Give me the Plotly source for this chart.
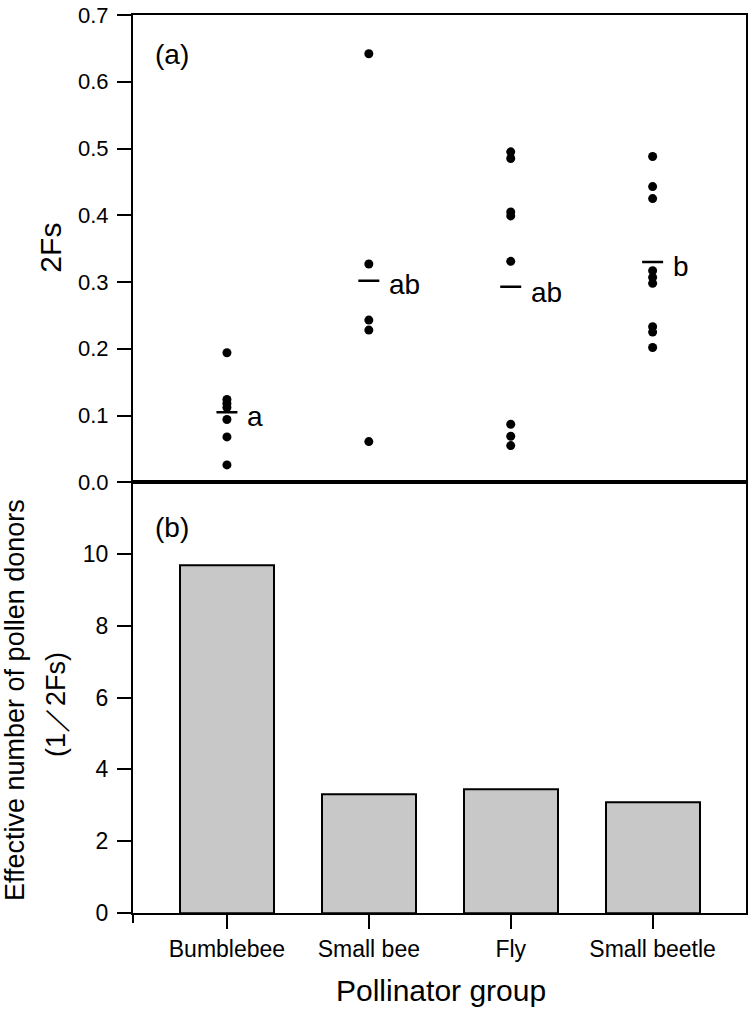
import plotly.graph_objects as go

# ---- data ----
categories = ["Bumblebee", "Small bee", "Fly", "Small beetle"]
bumblebee_2fs = [0.194, 0.124, 0.118, 0.112, 0.094, 0.068, 0.026]
small_bee_2fs = [0.642, 0.327, 0.243, 0.228, 0.061]
fly_2fs = [0.495, 0.485, 0.405, 0.399, 0.331, 0.087, 0.069, 0.055]
small_beetle_2fs = [0.488, 0.443, 0.425, 0.317, 0.307, 0.298, 0.233, 0.225, 0.202]
mean_2fs = [0.105, 0.302, 0.293, 0.330]
letters = ["a", "ab", "ab", "b"]
letter_y = [0.099, 0.296, 0.285, 0.324]
donors = [9.70, 3.31, 3.44, 3.08]
ytick_top = [0.0, 0.1, 0.2, 0.3, 0.4, 0.5, 0.6, 0.7]
ytick_bottom = [0, 2, 4, 6, 8, 10]

groups = [bumblebee_2fs, small_bee_2fs, fly_2fs, small_beetle_2fs]
idx = list(range(len(categories)))

FONT = "Liberation Sans, Arial, Helvetica, sans-serif"
fig = go.Figure()

# top panel: individual points
px_, py_ = [], []
for i, g in zip(idx, groups):
    px_ += [i] * len(g)
    py_ += g
fig.add_trace(go.Scatter(x=px_, y=py_, mode="markers", xaxis="x2", yaxis="y2",
                         marker=dict(color="black", size=9), showlegend=False))
# mean lines
fig.add_trace(go.Scatter(x=idx, y=mean_2fs, mode="markers", xaxis="x2", yaxis="y2",
                         marker=dict(symbol="line-ew", size=15, color="black",
                                     line=dict(color="black", width=2.5)),
                         showlegend=False))
# letters
for i, t, yv in zip(idx, letters, letter_y):
    fig.add_annotation(x=i + 0.13, y=yv, xref="x2", yref="y2", text=t, showarrow=False,
                       xanchor="left", yanchor="middle", font=dict(size=28, color="black"))

# bottom panel: bars
fig.add_trace(go.Bar(x=idx, y=donors, width=0.662, xaxis="x", yaxis="y",
                     marker=dict(color="#c8c8c8", line=dict(color="black", width=2)),
                     showlegend=False))

T, B = 15, 104
PH = 1017 - T - B
xr = [-0.662, 3.658]
split = (1017 - B - 482.3) / PH
axis_common = dict(showline=True, linecolor="black", linewidth=2, mirror=True,
                   showgrid=False, zeroline=False, automargin=False)
fig.update_layout(
    width=750, height=1017,
    margin=dict(l=133, r=4, t=T, b=B, autoexpand=False),
    paper_bgcolor="white", plot_bgcolor="white",
    font=dict(family=FONT, color="black", size=22),
    bargap=0,
    xaxis=dict(domain=[0, 1], anchor="y", range=xr, tickvals=idx, ticktext=categories,
               ticks="outside", ticklen=14, tickwidth=2, tickcolor="black",
               tickfont=dict(size=23), **axis_common),
    yaxis=dict(domain=[0, split], anchor="x", range=[0, 12], tickvals=ytick_bottom,
               ticks="outside", ticklen=14, tickwidth=2, tickcolor="black",
               tickfont=dict(size=23), ticklabelstandoff=4, ticklabeloverflow="allow",
               **axis_common),
    xaxis2=dict(domain=[0, 1], anchor="y2", range=xr, ticks="", showticklabels=False,
                **axis_common),
    yaxis2=dict(domain=[split, 1], anchor="x2", range=[0, 0.70001], tickvals=ytick_top,
                tickformat=".1f", ticks="outside", ticklen=14, tickwidth=2,
                tickcolor="black", tickfont=dict(size=22), ticklabelstandoff=4,
                ticklabeloverflow="allow", **axis_common),
)


def py(pix):
    return 1 - (pix - T) / PH


# panel labels
fig.add_annotation(x=0.0326, y=py(55), xref="paper", yref="paper", text="(a)",
                   showarrow=False, xanchor="left", yanchor="middle", font=dict(size=28))
fig.add_annotation(x=0.0326, y=py(527), xref="paper", yref="paper", text="(b)",
                   showarrow=False, xanchor="left", yanchor="middle", font=dict(size=28))
# axis titles
fig.add_annotation(x=-0.136, y=py(248), xref="paper", yref="paper", text="2Fs",
                   textangle=-90, showarrow=False, xanchor="center", yanchor="middle",
                   font=dict(size=30))
fig.add_annotation(x=(15 - 133) / 613, y=py(700), xref="paper", yref="paper",
                   text="Effective number of pollen donors", textangle=-90, showarrow=False,
                   xanchor="center", yanchor="middle", font=dict(size=27))
fig.add_annotation(x=(56 - 133) / 613, y=py(705), xref="paper", yref="paper",
                   text="(1／2Fs)", textangle=-90, showarrow=False,
                   xanchor="center", yanchor="middle", font=dict(size=27))
fig.add_annotation(x=(441 - 133) / 613, y=py(990), xref="paper", yref="paper",
                   text="Pollinator group", showarrow=False, xanchor="center",
                   yanchor="middle", font=dict(size=30))
# y-axis line tail below the x-axis
fig.add_shape(type="line", xref="paper", yref="paper", x0=0, x1=0, y0=0, y1=-10 / PH,
              line=dict(color="black", width=2))

fig.write_html("out.html", config={"displayModeBar": False},
               post_script="document.body.style.margin='0';")
